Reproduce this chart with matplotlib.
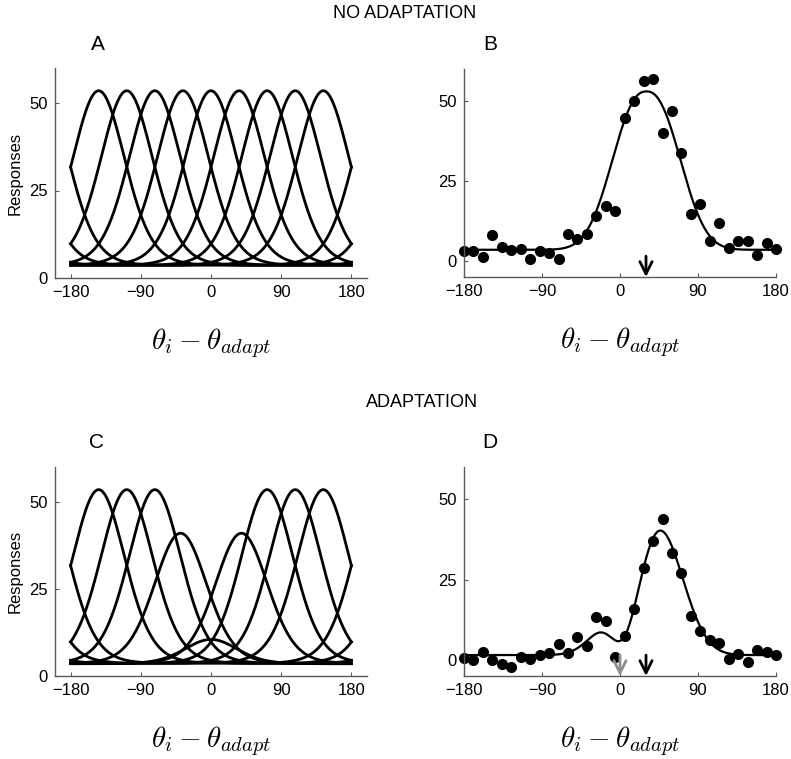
import numpy as np
import matplotlib
matplotlib.use("Agg")
from matplotlib import pyplot as plt

plt.rcParams['font.family'] = ['Liberation Sans', 'DejaVu Sans']
plt.rcParams['mathtext.fontset'] = 'cm'

# tuning curve parameters (panels A and C)
pref_A = [-144, -108, -72, -36, 0, 36, 72, 108, 144]
amp_A = [50, 50, 50, 50, 50, 50, 50, 50, 50]
pref_C = [-144, -108, -72, -39, 0, 39, 72, 108, 144]
amp_C = [50, 50, 50, 37.5, 7, 37.5, 50, 50, 50]
tuning_base = 3.5
tuning_kappa = 3.0

# population responses (panels B and D)
stim_x = [-180.0, -169.1, -158.2, -147.3, -136.4, -125.5, -114.5, -103.6, -92.7,
          -81.8, -70.9, -60.0, -49.1, -38.2, -27.3, -16.4, -5.5, 5.5, 16.4, 27.3,
          38.2, 49.1, 60.0, 70.9, 81.8, 92.7, 103.6, 114.5, 125.5, 136.4, 147.3,
          158.2, 169.1, 180.0]
resp_B = [3.2, 3.2, 1.3, 8.1, 4.4, 3.4, 3.6, 0.7, 3.2, 2.6, 0.5, 8.3, 7.0, 8.4,
          14.2, 17.3, 15.5, 44.6, 50.0, 56.3, 57.0, 40.0, 46.8, 33.7, 14.7, 17.7,
          6.4, 11.8, 4.0, 6.3, 6.3, 1.8, 5.5, 3.8]
resp_D = [0.6, 0.0, 2.4, 0.0, -1.3, -2.3, 0.8, 0.2, 1.4, 2.1, 5.0, 2.1, 7.2, 4.4,
          13.5, 12.0, 1.0, 7.5, 15.9, 28.5, 37.1, 43.8, 33.2, 27.1, 13.8, 8.9,
          6.2, 5.2, 0.2, 1.7, -0.8, 3.1, 2.4, 1.6]

# fitted curve parameters
fit_center = 30.5
fit_amp_B = 49.5
fit_amp_D = 46.5
fit_width = 50.0
fit_power = 2.35
fit_base_B = 3.5
fit_base_D = 1.5
adapt_depth = 0.87
adapt_kappa = 6.7

adapter = 0
stimulus = 30

W, H = 791, 759
fig = plt.figure(figsize=(W / 100, H / 100), dpi=100)


def px_axes(left, top, right, bottom):
    return fig.add_axes([left / W, 1 - bottom / H, (right - left) / W, (bottom - top) / H])


def style(ax, xlim, ylim):
    ax.set_xlim(xlim)
    ax.set_ylim(ylim)
    ax.set_xticks([-180, -90, 0, 90, 180])
    ax.set_yticks([0, 25, 50])
    for s in ['top', 'right']:
        ax.spines[s].set_visible(False)
    for s in ['left', 'bottom']:
        ax.spines[s].set_color('0.35')
        ax.spines[s].set_linewidth(1.0)
    ax.tick_params(direction='in', length=3, color='0.35', labelsize=12, pad=5)
    ax.set_xlabel(r'$\theta_i - \theta_{adapt}$', fontsize=21, labelpad=19)


def tuning(x, pref, amp):
    d = np.radians(x - pref)
    return tuning_base + amp * np.exp(tuning_kappa * (np.cos(d) - 1))


def fit_shape(x, amp):
    d = (x - fit_center + 180) % 360 - 180
    return amp * np.exp(-(np.abs(d) / fit_width) ** fit_power)


def gain(x):
    return 1 - adapt_depth * np.exp(adapt_kappa * (np.cos(np.radians(x - adapter)) - 1))


xs = np.linspace(-180, 180, 721)

axA = px_axes(55, 68, 367, 278)
axB = px_axes(464, 69, 776, 277)
axC = px_axes(55, 467, 367, 676)
axD = px_axes(464, 467, 776, 676)

for ax, prefs, amps in [(axA, pref_A, amp_A), (axC, pref_C, amp_C)]:
    for p, a in zip(prefs, amps):
        ax.plot(xs, tuning(xs, p, a), color='k', lw=2)
    style(ax, (-200, 200), (0, 60))
    ax.set_ylabel('Responses', fontsize=12, labelpad=5)

axB.plot(xs, fit_base_B + fit_shape(xs, fit_amp_B), color='k', lw=1.6)
axB.plot(stim_x, resp_B, 'o', color='k', ms=7, clip_on=False)
style(axB, (-180, 180), (-5, 60))

axD.plot(xs, fit_base_D + fit_shape(xs, fit_amp_D) * gain(xs), color='k', lw=1.6)
axD.plot(stim_x, resp_D, 'o', color='k', ms=7, clip_on=False)
style(axD, (-180, 180), (-5, 60))

arrow = dict(arrowstyle='->', lw=2, mutation_scale=22, shrinkA=0, shrinkB=0)
axB.annotate('', xy=(stimulus, -5), xytext=(stimulus, 1.5),
             arrowprops=dict(arrow, color='k'))
axD.annotate('', xy=(adapter, -5), xytext=(adapter, 1.5),
             arrowprops=dict(arrow, color='0.55'))
axD.annotate('', xy=(stimulus, -5), xytext=(stimulus, 1.5),
             arrowprops=dict(arrow, color='k'))

fig.text(405 / W, 1 - 13 / H, 'NO ADAPTATION', ha='center', va='center', fontsize=13)
fig.text(422 / W, 1 - 402 / H, 'ADAPTATION', ha='center', va='center', fontsize=13)
for lab, x, y in [('A', 98, 45), ('B', 490, 45), ('C', 97, 443), ('D', 490, 443)]:
    fig.text(x / W, 1 - y / H, lab, ha='center', va='center', fontsize=15)

fig.savefig('out.png', dpi=100)
